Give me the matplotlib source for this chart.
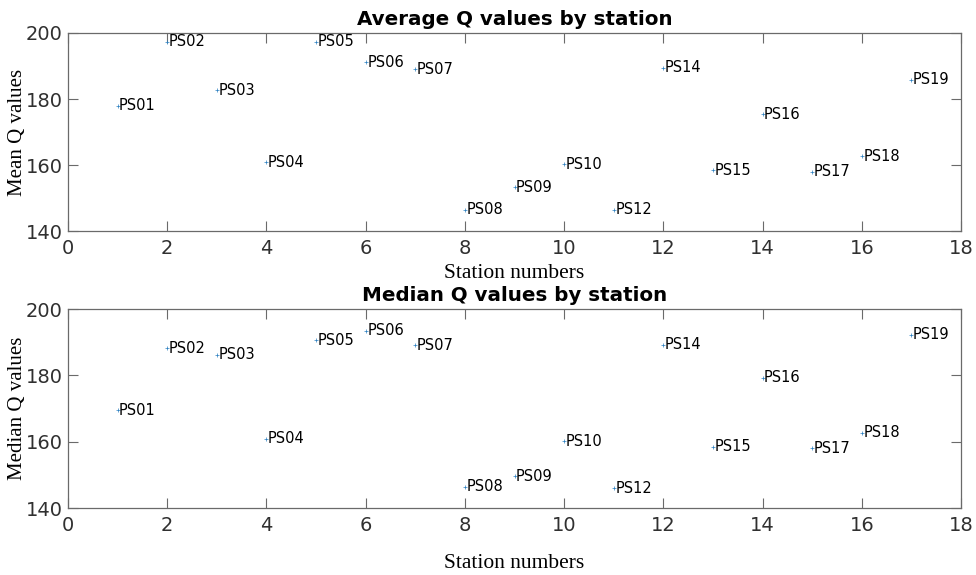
import matplotlib
matplotlib.use("Agg")
import matplotlib.pyplot as plt

stations = [1, 2, 3, 4, 5, 6, 7, 8, 9, 10, 11, 12, 13, 14, 15, 16, 17]
labels = ["PS01", "PS02", "PS03", "PS04", "PS05", "PS06", "PS07", "PS08", "PS09",
          "PS10", "PS12", "PS14", "PS15", "PS16", "PS17", "PS18", "PS19"]
mean_q = [178.0, 197.3, 182.6, 160.8, 197.3, 191.2, 189.0, 146.4, 153.3,
          160.2, 146.4, 189.5, 158.4, 175.4, 158.0, 162.7, 185.8]
median_q = [169.5, 188.2, 186.2, 160.9, 190.6, 193.5, 189.1, 146.4, 149.6,
            160.2, 145.9, 189.2, 158.4, 179.2, 158.0, 162.7, 192.2]
xticks = [0, 2, 4, 6, 8, 10, 12, 14, 16, 18]
yticks = [140, 160, 180, 200]

W, H = 976, 575
fig = plt.figure(figsize=(W / 100, H / 100), dpi=100)

def ax_rect(left, top, right, bottom):
    return [left / W, 1 - bottom / H, (right - left) / W, (bottom - top) / H]

panels = [
    (ax_rect(68, 33, 961, 231), mean_q, "Average Q values by station", "Mean Q values", 273),
    (ax_rect(68, 309, 961, 508), median_q, "Median Q values by station", "Median Q values", 563),
]

edge = "#6a6a6a"
for rect, vals, title, ylab, xlab_y in panels:
    ax = fig.add_axes(rect)
    ax.plot(stations, vals, linestyle="none", marker="+", markersize=3.5,
            markeredgewidth=0.5, color="#2a7fc0")
    for xs, v, lab in zip(stations, vals, labels):
        ax.text(xs + 0.03, v, lab, ha="left", va="center", fontsize=10.5,
                family="DejaVu Sans", color="black")
    ax.set_xlim(0, 18)
    ax.set_ylim(140, 200)
    ax.set_xticks(xticks)
    ax.set_yticks(yticks)
    ax.tick_params(direction="in", top=True, right=True, length=7, width=0.8,
                   color=edge, labelsize=14, labelcolor="#303030")
    ax.tick_params(axis="x", pad=6)
    ax.tick_params(axis="y", pad=4)
    for s in ax.spines.values():
        s.set_color(edge)
        s.set_linewidth(0.9)
    ax.set_title(title, fontsize=14.3, fontweight="bold", family="DejaVu Sans", pad=6)
    ax.set_xlabel("Station numbers", family="Liberation Serif", fontsize=15.5)
    bottom_px = rect[1] * H
    ax.xaxis.set_label_coords(0.5, (H - xlab_y - bottom_px) / (rect[3] * H))
    ax.xaxis.label.set_va("center")
    ax.set_ylabel(ylab, family="Liberation Serif", fontsize=15)
    ax.yaxis.set_label_coords((18 - 68) / (rect[2] * W), 0.5)
    ax.yaxis.label.set_va("center")

fig.savefig("out.png", dpi=100)
